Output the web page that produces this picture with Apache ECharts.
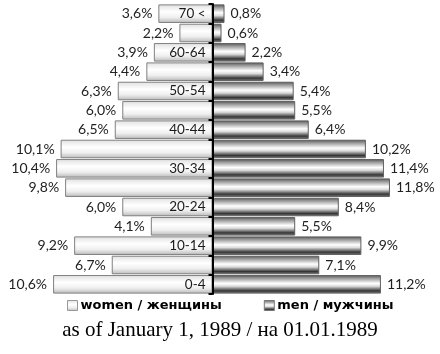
<!DOCTYPE html>
<html>
<head>
<meta charset="utf-8">
<script src="https://cdn.jsdelivr.net/npm/echarts@6/dist/echarts.min.js"></script>
<style>
html,body{margin:0;padding:0;background:#fff;}
#chart{width:440px;height:354px;}
</style>
</head>
<body>
<div id="chart"></div>
<script>
// age groups, bottom to top
var ages = ['0-4','5-9','10-14','15-19','20-24','25-29','30-34','35-39','40-44','45-49','50-54','55-59','60-64','65-69','70 <'];
var women = [10.6, 6.7, 9.2, 4.1, 6.0, 9.8, 10.4, 10.1, 6.5, 6.0, 6.3, 4.4, 3.9, 2.2, 3.6];
var men = [11.2, 7.1, 9.9, 5.5, 8.4, 11.8, 11.4, 10.2, 6.4, 5.5, 5.4, 3.4, 2.2, 0.6, 0.8];
// age labels shown only on every other row
var shownAges = ['0-4','10-14','20-24','30-34','40-44','50-54','60-64','70 <'];
var womenName = 'women / женщины';
var menName = 'men / мужчины';
var titleText = 'as of January 1, 1989 / на 01.01.1989';

//百分比格式 (comma decimal)
function pct(v){
	return Math.abs(v).toFixed(1).replace('.', ',') + '%';
}

var womenFill = new echarts.graphic.LinearGradient(0, 0, 0, 1, [
	{offset: 0, color: '#e0e0e0'},
	{offset: 0.4, color: '#ffffff'},
	{offset: 0.7, color: '#efefef'},
	{offset: 1, color: '#b8b8b8'}
]);
var menFill = new echarts.graphic.LinearGradient(0, 0, 0, 1, [
	{offset: 0, color: '#505050'},
	{offset: 0.15, color: '#929292'},
	{offset: 0.45, color: '#ffffff'},
	{offset: 0.6, color: '#dddddd'},
	{offset: 0.85, color: '#363636'},
	{offset: 1, color: '#808080'}
]);

var chartDom = document.getElementById('chart');
var myChart = echarts.init(chartDom);
var option = {
	animation: false,
	textStyle: {fontFamily: 'Lato'},
	title: {
		text: titleText,
		left: 'center',
		top: 315,
		textStyle: {fontFamily: 'Liberation Serif', fontWeight: 'normal', fontSize: 21, color: '#000'}
	},
	legend: {
		bottom: 37,
		left: 62,
		itemGap: 42,
		itemWidth: 10,
		itemHeight: 10,
		icon: 'rect',
		textStyle: {fontFamily: 'DejaVu Sans', fontWeight: 'bold', fontSize: 13, color: '#000', padding: [0, 0, 0, -2]},
		data: [
			{name: womenName, itemStyle: {color: womenFill, borderColor: '#999', borderWidth: 1}},
			{name: menName, itemStyle: {color: menFill, borderColor: '#777', borderWidth: 1}}
		]
	},
	grid: {left: 17, right: 32, top: 4, bottom: 60, outerBoundsMode: 'none', containLabel: false},
	xAxis: {
		type: 'value',
		min: -13,
		max: 13,
		show: false
	},
	yAxis: {
		type: 'category',
		data: ages,
		axisLine: {onZero: true, lineStyle: {color: '#000', width: 2}},
		axisTick: {show: true, length: 4, lineStyle: {color: '#000', width: 2}},
		axisLabel: {show: false},
		z: 10
	},
	series: [
		{
			name: womenName,
			type: 'bar',
			stack: 'p',
			barCategoryGap: '4%',
			data: women.map(function(v){ return -v; }),
			itemStyle: {color: womenFill, borderColor: '#808080', borderWidth: 1},
			label: {
				show: true,
				position: 'left',
				distance: 6,
				fontFamily: 'Lato',
				fontSize: 14,
				color: '#222',
				formatter: function(p){ return pct(p.value); }
			}
		},
		{
			name: menName,
			type: 'bar',
			stack: 'p',
			barCategoryGap: '4%',
			data: men,
			itemStyle: {color: menFill, borderColor: '#606060', borderWidth: 1},
			label: {
				show: true,
				position: 'right',
				distance: 6,
				fontFamily: 'Lato',
				fontSize: 14,
				color: '#222',
				formatter: function(p){ return pct(p.value); }
			}
		},
		{
			//年龄标签
			type: 'scatter',
			symbolSize: 0,
			silent: true,
			z: 5,
			data: shownAges.map(function(a){ return {value: [0, a], name: a}; }),
			label: {
				show: true,
				position: 'left',
				distance: 7,
				fontFamily: 'Lato',
				fontSize: 13.5,
				color: '#1a1a1a',
				opacity: 1,
				formatter: '{b}'
			}
		}
	]
};
myChart.setOption(option);
</script>
</body>
</html>
